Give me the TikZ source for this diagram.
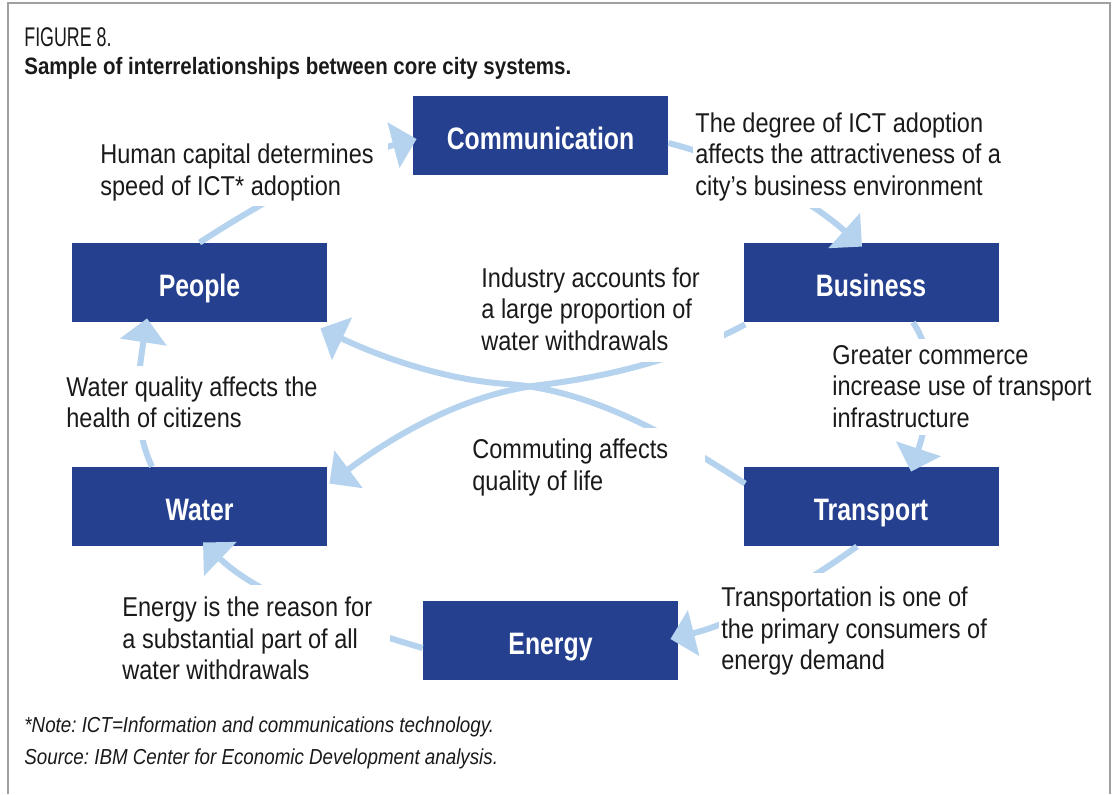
\documentclass[tikz,border=0pt]{standalone}
\usepackage{fontspec}
\setmainfont{Liberation Sans}[FakeStretch=0.865]
\newfontfamily\figfont{Liberation Sans}[FakeStretch=0.66]
\newfontfamily\boxfont{Liberation Sans}[FakeStretch=0.8]
\usetikzlibrary{arrows.meta,calc}
\definecolor{boxblue}{RGB}{37,64,143}
\definecolor{arrowblue}{RGB}{181,211,238}
\definecolor{ink}{RGB}{26,26,26}
\definecolor{framegray}{RGB}{160,160,160}
\frenchspacing

\begin{document}
\begin{tikzpicture}[x=0.5pt,y=-0.5pt]
 \tikzset{box/.style={fill=boxblue, text=white, font=\boxfont\fontsize{15.5}{18}\selectfont\bfseries, minimum width=127.5pt, minimum height=39.5pt, text height=13.6pt, text depth=0pt, inner sep=0pt}}
 \tikzset{flow/.style={draw=arrowblue, line width=3pt, -{Triangle[length=12pt,width=23pt]}}}
 \tikzset{note/.style={fill=white, text=ink, align=flush left, anchor=west, inner xsep=1pt, inner ysep=0pt, font=\fontsize{13.6}{15.75}\selectfont}}
  \useasboundingbox (0,0) rectangle (1112,794);
  \draw[framegray, line width=1pt] (8,794) -- (8,3) -- (1110,3) -- (1110,794);
  % title
  \node[anchor=base west, inner sep=0pt, text=ink, font=\figfont\fontsize{13.5}{16}\selectfont] (FIG) at (24,46) {FIGURE 8.};
  \node[anchor=base west, inner sep=0pt, text=ink, font=\fontsize{11.85}{14}\selectfont\bfseries] (TITLE) at (24,74) {Sample of interrelationships between core city systems.};
  % city systems
  \node[box] (COMM) at (540.5,135.5) {Communication};
  \node[box] (PEOPLE) at (199.5,282.5) {People};
  \node[box] (BUSINESS) at (871,282.5) {Business};
  \node[box] (WATER) at (199.5,506.5) {Water};
  \node[box] (TRANSPORT) at (871,506.5) {Transport};
  \node[box] (ENERGY) at (550.5,640.5) {Energy};
  % links
  \draw[flow] (PEOPLE.north) .. controls (268,198) and (341,159) .. ($(COMM.west)+(4,3.5)$);
  \draw[flow] ($(COMM.east)+(0,7.5)$) .. controls (739,161) and (808,198) .. ($(BUSINESS.north)+(-9,4)$);
  \draw[flow] ($(BUSINESS.south)+(42,0)$) .. controls (941,363) and (926.5,424.5) .. ($(TRANSPORT.north)+(40,5)$);
  \draw[flow] ($(TRANSPORT.south)+(-14,0)$) .. controls (800.5,587) and (738,622) .. ($(ENERGY.east)+(-8,-1.5)$);
  \draw[flow] ($(ENERGY.west)+(0,7.5)$) .. controls (345,625) and (261,598) .. ($(WATER.south)+(3.5,-4)$);
  \draw[flow] ($(WATER.north)+(-47.5,0)$) .. controls (130.4,422) and (139.5,367.5) .. ($(PEOPLE.south)+(-52.5,-4)$);
  % crossing links
  \draw[flow] ($(BUSINESS.south west)+(2,2)$) .. controls (683,358) and (610.5,376.5) .. (540,385)
     .. controls (462.5,394.4) and (391.4,437.2) .. ($(WATER.north east)+(2,17)$);
  \draw[flow] ($(TRANSPORT.north west)+(2,17)$) .. controls (673,437) and (593,390) .. (507,384)
     .. controls (442,379.5) and (378.5,356) .. ($(PEOPLE.south east)+(-7,6)$);
  % notes
  \node[note, text width=143pt, minimum height=33.5pt] (N1) at (98,172.5) {Human capital determines\\speed of ICT* adoption};
  \node[note, text width=162.5pt, minimum height=51.5pt] (N2) at (693,156.5) {The degree of ICT adoption\\affects the attractiveness of a\\city’s business environment};
  \node[note, text width=120.5pt, minimum height=53pt] (N3) at (479,309) {Industry accounts for\\a large proportion of\\water withdrawals};
  \node[note, text width=136pt, minimum height=48pt] (N4) at (830,386.5) {Greater commerce\\increase use of transport\\infrastructure};
  \node[note, text width=133pt, minimum height=37pt] (N5) at (64,402.5) {Water quality affects the\\health of citizens};
  \node[note, text width=115.5pt, minimum height=39.5pt] (N6) at (470,467.5) {Commuting affects\\quality of life};
  \node[note, text width=133pt, minimum height=53.5pt] (N7) at (120,638.5) {Energy is the reason for\\a substantial part of all\\water withdrawals};
  \node[note, text width=142.5pt, minimum height=58pt] (N8) at (719,631) {Transportation is one of\\the primary consumers of\\energy demand};
  % footnote
  \node[anchor=north west, inner sep=0pt, align=left, text=ink, font=\fontsize{10.85}{16}\selectfont\itshape] (FOOT) at (24,716) {*Note: ICT=Information and communications technology.\\Source: IBM Center for Economic Development analysis.};
\end{tikzpicture}
\end{document}
